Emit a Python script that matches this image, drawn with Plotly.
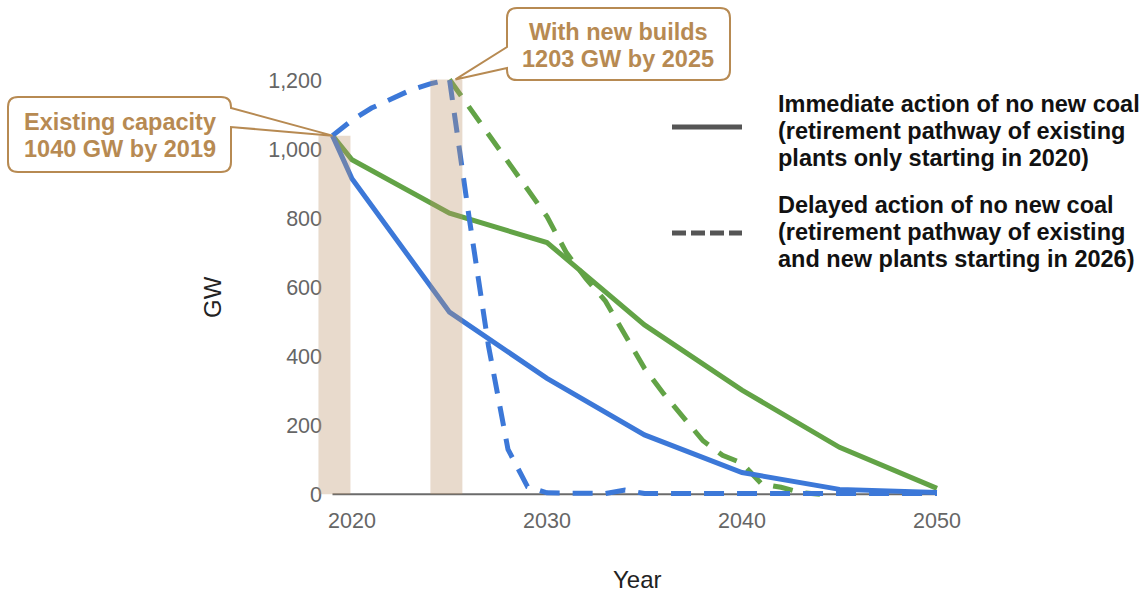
import plotly.graph_objects as go

# ---------------------------------------------------------------- data
years_immediate = [2019, 2020, 2025, 2030, 2035, 2040, 2045, 2050]
blue_immediate = [1040, 915, 528, 336, 172, 63, 14, 5]
green_immediate = [1040, 970, 815, 730, 491, 302, 136, 17]

years_delayed_blue = list(range(2019, 2051))
blue_delayed = [1040, 1085, 1120, 1148, 1172, 1190, 1203, 805, 430, 130,
                22, 4, 3, 2, 2, 12, 2, 2, 2, 2,
                2, 2, 2, 2, 2, 2, 2, 2, 2, 2,
                2, 2]

years_delayed_green = list(range(2025, 2045))
green_delayed = [1203, 1124, 1045, 966, 887, 805, 700, 625, 560, 465,
                 365, 290, 225, 155, 113, 90, 30, 20, 5, 0]

marker_years = [2019, 2025]
marker_capacity = [1040, 1203]
callout_lines = [["Existing capacity", "1040 GW by 2019"],
                 ["With new builds", "1203 GW by 2025"]]

legend_lines = [["Immediate action of no new coal",
                 "(retirement pathway of existing",
                 "plants only starting in 2020)"],
                ["Delayed action of no new coal",
                 "(retirement pathway of existing",
                 "and new plants starting in 2026)"]]

x_ticks = [2020, 2030, 2040, 2050]
y_ticks = [0, 200, 400, 600, 800, 1000, 1200]

# ---------------------------------------------------------------- layout geometry
W, H = 1145, 593
L, R, T, B = 313, 169, 46, 85
PW, PH = W - L - R, H - T - B
XR = [2018, 2052]
YR = [-40, 1300]

FONT = "Liberation Sans, Arial, sans-serif"
BLUE = "#3c78d8"
GREEN = "#62a346"
TAN = "#b78a52"
LINE_W = 5
DASH = "20px,13px"
BAND_HALF = 0.82          # half-width of the highlight bands, in years
BAND_SHIFT = [0.1, -0.16]  # small horizontal nudge of each band, in years


def px_x(px):
    return (px - L) / PW


def px_y(py):
    return (H - B - py) / PH


def data_x(x):
    return (x - XR[0]) / (XR[1] - XR[0])


def data_y(y):
    return (y - YR[0]) / (YR[1] - YR[0])


def callout_path(x0, y0, x1, y1, r, side, pa, pb, tip):
    """Rounded box (pixel coords) with a pointer on one side, as a paper-space path."""
    def p(px, py):
        return f"{px_x(px):.5f},{px_y(py):.5f}"
    tx, ty = tip
    tip_s = f"{tx:.5f},{ty:.5f}"
    d = [f"M{p(x0 + r, y0)}", f"L{p(x1 - r, y0)}", f"Q{p(x1, y0)} {p(x1, y0 + r)}"]
    if side == "right":
        d += [f"L{p(x1, pa)}", f"L{tip_s}", f"L{p(x1, pb)}"]
    d += [f"L{p(x1, y1 - r)}", f"Q{p(x1, y1)} {p(x1 - r, y1)}",
          f"L{p(x0 + r, y1)}", f"Q{p(x0, y1)} {p(x0, y1 - r)}"]
    if side == "left":
        d += [f"L{p(x0, pb)}", f"L{tip_s}", f"L{p(x0, pa)}"]
    d += [f"L{p(x0, y0 + r)}", f"Q{p(x0, y0)} {p(x0 + r, y0)}", "Z"]
    return " ".join(d)


fig = go.Figure()

# ---------------------------------------------------------------- series
fig.add_trace(go.Scatter(x=years_immediate, y=green_immediate, mode="lines",
                         line=dict(color=GREEN, width=LINE_W), showlegend=False,
                         name="Immediate action (green)"))
fig.add_trace(go.Scatter(x=years_delayed_green, y=green_delayed, mode="lines",
                         line=dict(color=GREEN, width=LINE_W, dash=DASH),
                         showlegend=False, name="Delayed action (green)"))
fig.add_trace(go.Scatter(x=years_immediate, y=blue_immediate, mode="lines",
                         line=dict(color=BLUE, width=LINE_W), showlegend=False,
                         name="Immediate action (blue)"))
fig.add_trace(go.Scatter(x=years_delayed_blue, y=blue_delayed, mode="lines",
                         line=dict(color=BLUE, width=LINE_W, dash=DASH),
                         showlegend=False, name="Delayed action (blue)"))

shapes = []
annotations = []

# x baseline from the first to the last year
shapes.append(dict(type="line", xref="x", yref="y", layer="below",
                   x0=years_immediate[0], x1=years_immediate[-1], y0=0, y1=0,
                   line=dict(color="#6b6b6b", width=2)))

# translucent bands marking the 2019 and 2025 capacities
for yr, cap, shift in zip(marker_years, marker_capacity, BAND_SHIFT):
    shapes.append(dict(type="rect", xref="x", yref="y", layer="above",
                       x0=yr + shift - BAND_HALF, x1=yr + shift + BAND_HALF,
                       y0=0, y1=cap,
                       fillcolor="rgba(190,150,108,0.35)", line=dict(width=0)))

# callout boxes
boxes = [
    dict(box=(8, 97, 231, 172), side="right", pa=108, pb=127, dx=0,
         text_x=120, text_y=(122, 149)),
    dict(box=(507, 8, 730, 80), side="left", pa=47, pb=68, dx=6,
         text_x=618, text_y=(32, 59)),
]
for b, yr, cap, lines in zip(boxes, marker_years, marker_capacity, callout_lines):
    tip = (data_x(yr) + b["dx"] / PW, data_y(cap))
    shapes.append(dict(type="path", xref="paper", yref="paper", layer="above",
                       path=callout_path(*b["box"], 10, b["side"], b["pa"], b["pb"], tip),
                       fillcolor="white", line=dict(color=TAN, width=2)))
    for txt, ty in zip(lines, b["text_y"]):
        annotations.append(dict(text=txt, xref="paper", yref="paper",
                                x=px_x(b["text_x"]), y=px_y(ty),
                                xanchor="center", yanchor="middle", showarrow=False,
                                font=dict(family=FONT, size=23.5, color=TAN, weight=700)))

# line-style key
key_rows = [(127, None, (104, 131, 158)), (233, "14px,5px", (205, 232, 259))]
for (ly, dash, text_ys), lines in zip(key_rows, legend_lines):
    line_style = dict(color="#555555", width=5)
    if dash:
        line_style["dash"] = dash
    shapes.append(dict(type="line", xref="paper", yref="paper",
                       x0=px_x(672), x1=px_x(742), y0=px_y(ly), y1=px_y(ly),
                       line=line_style))
    for txt, ty in zip(lines, text_ys):
        annotations.append(dict(text=txt, xref="paper", yref="paper",
                                x=px_x(776), y=px_y(ty),
                                xanchor="left", yanchor="middle", showarrow=False,
                                font=dict(family=FONT, size=23.5, color="#111111",
                                          weight=700)))

# axis titles
annotations.append(dict(text="GW", xref="paper", yref="paper", x=px_x(212), y=px_y(297),
                        xanchor="center", yanchor="middle", showarrow=False, textangle=-90,
                        font=dict(family=FONT, size=24, color="#222222")))
annotations.append(dict(text="Year", xref="paper", yref="paper", x=px_x(637), y=px_y(579),
                        xanchor="center", yanchor="middle", showarrow=False,
                        font=dict(family=FONT, size=24, color="#222222")))

fig.update_layout(
    width=W, height=H,
    margin=dict(l=L, r=R, t=T, b=B, pad=0),
    paper_bgcolor="white", plot_bgcolor="white",
    showlegend=False,
    shapes=shapes,
    annotations=annotations,
    xaxis=dict(range=XR, tickvals=x_ticks, showgrid=False, zeroline=False,
               showline=False, ticks="", ticklabelstandoff=-3,
               tickfont=dict(family=FONT, size=21.5, color="#666666")),
    yaxis=dict(range=YR, tickvals=y_ticks, tickformat=",", showgrid=False,
               zeroline=False, showline=False, ticks="", ticklabelstandoff=-10,
               tickfont=dict(family=FONT, size=21.5, color="#666666")),
)

fig.write_html("out.html")
